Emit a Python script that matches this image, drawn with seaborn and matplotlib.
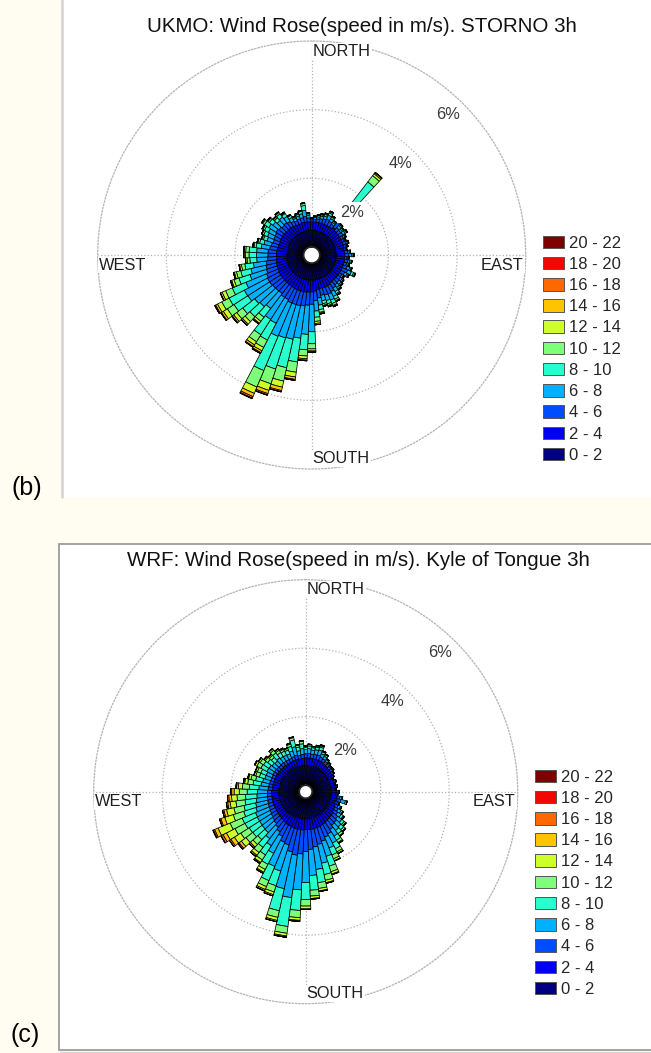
import numpy as np
import matplotlib
matplotlib.use("Agg")
import matplotlib.pyplot as plt
from matplotlib.patches import Patch, Rectangle
from matplotlib.lines import Line2D
import seaborn as sns

sns.set_theme(style="white")
plt.rcParams["font.family"] = ["Liberation Sans", "DejaVu Sans"]

# Direction bins: centres every 5 degrees, clockwise from north
directions = list(range(0, 360, 5))
speed_labels = ["0 - 2", "2 - 4", "4 - 6", "6 - 8", "8 - 10", "10 - 12",
                "12 - 14", "14 - 16", "16 - 18", "18 - 20", "20 - 22"]
ring_values = [2, 4, 6]
compass = ["NORTH", "EAST", "SOUTH", "WEST"]

# ---- UKMO, STORNO: frequency (%) per direction for each speed class ----
ukmo_0_2 = [.48, .48, .48, .48, .48, .48, .48, .48, .48, .48, .48, .48,
            .48, .48, .48, .48, .48, .48, .48, .48, .48, .48, .48, .48,
            .48, .48, .48, .48, .48, .48, .49, .49, .49, .49, .49, .50,
            .50, .50, .50, .50, .50, .50, .50, .50, .50, .50, .50, .50,
            .50, .50, .50, .50, .50, .49, .49, .49, .49, .49, .49, .49,
            .49, .49, .49, .49, .49, .49, .48, .48, .48, .48, .48, .48]
ukmo_2_4 = [.25, .25, .25, .25, .25, .25, .25, .25, .30, .25, .25, .25,
            .25, .25, .25, .25, .24, .25, .25, .25, .25, .25, .25, .25,
            .25, .25, .25, .25, .25, .26, .28, .29, .29, .28, .30, .32,
            .34, .35, .36, .36, .36, .36, .35, .35, .34, .34, .34, .34,
            .34, .33, .32, .32, .31, .30, .30, .30, .29, .28, .27, .28,
            .28, .29, .28, .27, .28, .27, .26, .25, .25, .26, .26, .25]
ukmo_4_6 = [.06, .08, .10, .12, .14, .17, .14, .10, .35, .12, .10, .12,
            .08, .06, .08, .06, .05, .08, .12, .06, .10, .08, .12, .17,
            .12, .08, .10, .12, .14, .17, .20, .22, .21, .20, .24, .28,
            .36, .38, .40, .42, .42, .42, .38, .38, .34, .35, .36, .38,
            .38, .36, .33, .31, .29, .26, .25, .25, .22, .20, .18, .19,
            .20, .22, .20, .18, .19, .17, .14, .12, .14, .14, .16, .12]
ukmo_6_8 = [.03, .05, .06, .08, .09, .12, .09, .06, .52, .08, .06, .08,
            .05, .03, .05, .03, .02, .05, .08, .03, .06, .05, .08, .12,
            .08, .05, .06, .08, .09, .12, .16, .19, .17, .16, .21, .30,
            .80, .85, .95, 1.00, 1.02, 1.05, .78, .76, .55, .62, .66, .75,
            .76, .65, .50, .45, .38, .32, .33, .33, .25, .22, .19, .20,
            .22, .25, .22, .19, .20, .17, .12, .08, .09, .12, .18, .08]
ukmo_8_10 = [.02, .03, .04, .04, .05, .07, .05, .04, .80, .04, .04, .04,
             .03, .02, .03, .02, .01, .03, .04, .02, .04, .03, .04, .07,
             .04, .03, .04, .04, .05, .07, .09, .11, .10, .09, .13, .18,
             .35, .45, .70, .85, .95, 1.08, .55, .53, .32, .40, .44, .48,
             .50, .43, .34, .30, .25, .20, .22, .22, .15, .13, .11, .12,
             .13, .15, .13, .11, .12, .10, .07, .04, .05, .07, .14, .04]
ukmo_10_12 = [.01, .01, .02, .02, .03, .04, .03, .02, .23, .02, .02, .02,
              .01, .01, .01, .01, 0, .01, .02, .01, .02, .01, .02, .04,
              .02, .01, .02, .02, .03, .03, .05, .06, .05, .05, .08, .12,
              .15, .18, .30, .40, .45, .52, .24, .24, .15, .19, .22, .23,
              .24, .21, .15, .13, .10, .08, .10, .10, .06, .05, .04, .05,
              .05, .06, .05, .04, .05, .03, .02, .02, .03, .02, .06, .02]
ukmo_12_14 = [0, 0, 0, .01, .01, .01, .01, 0, .07, .01, 0, .01,
              0, 0, 0, 0, 0, 0, .01, 0, 0, 0, .01, .02,
              .01, 0, 0, .01, .01, .02, .02, .03, .03, .02, .03, .06,
              .06, .08, .14, .18, .20, .20, .11, .11, .07, .10, .11, .14,
              .14, .11, .07, .06, .05, .04, .04, .04, .03, .02, .02, .02,
              .02, .03, .02, .02, .02, .02, .01, .01, .01, .01, .02, .01]
ukmo_14_16 = [0, 0, 0, 0, 0, .01, 0, 0, .04, 0, 0, 0,
              0, 0, 0, 0, 0, 0, 0, 0, 0, 0, 0, 0,
              0, 0, 0, 0, 0, 0, .01, .01, .01, .01, .02, .04,
              .03, .04, .07, .10, .10, .10, .06, .06, .03, .04, .05, .06,
              .06, .05, .03, .03, .02, .01, .02, .02, .01, .01, 0, 0,
              .01, .01, .01, 0, 0, 0, 0, 0, 0, 0, 0, 0]
ukmo_16_18 = [0, 0, 0, 0, 0, 0, 0, 0, .01, 0, 0, 0,
              0, 0, 0, 0, 0, 0, 0, 0, 0, 0, 0, 0,
              0, 0, 0, 0, 0, 0, 0, 0, 0, 0, 0, 0,
              .01, .02, .03, .04, .04, .05, .03, .02, 0, .01, .02, .02,
              .03, .01, .01, 0, 0, 0, 0, 0, 0, 0, 0, 0,
              0, 0, 0, 0, 0, 0, 0, 0, 0, 0, 0, 0]
ukmo_18_20 = [0, 0, 0, 0, 0, 0, 0, 0, 0, 0, 0, 0,
              0, 0, 0, 0, 0, 0, 0, 0, 0, 0, 0, 0,
              0, 0, 0, 0, 0, 0, 0, 0, 0, 0, 0, 0,
              0, 0, 0, 0, .01, .01, 0, 0, 0, 0, 0, 0,
              0, 0, 0, 0, 0, 0, 0, 0, 0, 0, 0, 0,
              0, 0, 0, 0, 0, 0, 0, 0, 0, 0, 0, 0]
ukmo_20_22 = [0, 0, 0, 0, 0, 0, 0, 0, 0, 0, 0, 0,
              0, 0, 0, 0, 0, 0, 0, 0, 0, 0, 0, 0,
              0, 0, 0, 0, 0, 0, 0, 0, 0, 0, 0, 0,
              0, 0, 0, 0, 0, .01, 0, 0, 0, 0, 0, 0,
              0, 0, 0, 0, 0, 0, 0, 0, 0, 0, 0, 0,
              0, 0, 0, 0, 0, 0, 0, 0, 0, 0, 0, 0]

# ---- WRF, Kyle of Tongue: frequency (%) per direction for each speed class ----
wrf_0_2 = [.58, .58, .58, .58, .58, .58, .58, .57, .57, .57, .57, .56,
           .56, .55, .56, .55, .56, .55, .56, .56, .56, .56, .56, .57,
           .57, .57, .58, .58, .58, .59, .59, .59, .60, .60, .60, .60,
           .60, .60, .60, .60, .60, .60, .60, .60, .60, .60, .60, .60,
           .60, .60, .60, .60, .60, .60, .60, .59, .59, .59, .59, .59,
           .59, .59, .59, .58, .58, .58, .58, .58, .58, .58, .58, .58]
wrf_2_4 = [.22, .22, .22, .22, .22, .22, .21, .20, .19, .17, .17, .16,
           .13, .11, .13, .11, .13, .11, .15, .13, .18, .20, .16, .18,
           .20, .22, .24, .25, .26, .27, .29, .30, .31, .31, .32, .32,
           .32, .33, .33, .33, .32, .31, .30, .28, .26, .25, .24, .23,
           .22, .22, .22, .21, .21, .21, .21, .20, .20, .20, .19, .19,
           .20, .20, .19, .19, .20, .19, .19, .19, .20, .20, .20, .20]
wrf_4_6 = [.12, .13, .12, .13, .14, .11, .10, .09, .08, .07, .07, .06,
           .04, .03, .04, .03, .04, .03, .05, .04, .08, .10, .07, .09,
           .11, .13, .17, .20, .21, .26, .32, .36, .42, .48, .52, .58,
           .64, .70, .75, .68, .52, .50, .38, .32, .26, .22, .20, .18,
           .17, .15, .14, .14, .13, .12, .12, .12, .11, .10, .10, .10,
           .10, .10, .10, .10, .10, .10, .10, .10, .11, .13, .10, .12]
wrf_6_8 = [.12, .14, .12, .14, .15, .10, .09, .06, .04, .03, .03, .02,
           .02, .01, .02, .01, .02, .01, .03, .02, .05, .14, .04, .07,
           .10, .12, .15, .18, .19, .23, .30, .34, .46, .56, .66, .76,
           .90, 1.05, 1.25, 1.10, .80, .76, .56, .48, .42, .36, .38, .40,
           .42, .43, .38, .36, .33, .31, .29, .27, .23, .21, .18, .18,
           .20, .19, .17, .16, .18, .16, .15, .14, .17, .25, .14, .17]
wrf_8_10 = [.07, .08, .07, .08, .09, .06, .05, .02, .02, .01, .01, 0,
            0, 0, 0, 0, 0, 0, .01, 0, .03, .05, .02, .03,
            .05, .07, .09, .11, .12, .14, .19, .22, .30, .34, .39, .43,
            .50, .60, .85, .66, .45, .45, .36, .32, .32, .28, .34, .36,
            .40, .42, .37, .35, .33, .33, .30, .28, .23, .21, .17, .17,
            .20, .19, .16, .14, .18, .14, .13, .12, .14, .20, .11, .14]
wrf_10_12 = [.03, .04, .03, .03, .04, .02, .01, .01, 0, 0, 0, 0,
             0, 0, 0, 0, 0, 0, 0, 0, 0, 0, 0, .01,
             .02, .03, .05, .06, .07, .08, .10, .12, .17, .17, .17, .17,
             .19, .21, .20, .20, .19, .19, .17, .17, .19, .19, .25, .29,
             .33, .38, .32, .30, .27, .25, .23, .20, .16, .14, .11, .11,
             .13, .12, .09, .08, .10, .08, .06, .05, .07, .07, .05, .07]
wrf_12_14 = [.01, .01, .01, .02, .02, .01, .01, 0, 0, 0, 0, 0,
             0, 0, 0, 0, 0, 0, 0, 0, 0, 0, 0, 0,
             0, .01, .02, .02, .02, .03, .05, .06, .07, .07, .07, .07,
             .08, .08, .08, .09, .08, .09, .09, .09, .10, .10, .17, .22,
             .28, .38, .26, .22, .17, .16, .15, .12, .09, .07, .05, .05,
             .06, .05, .04, .04, .05, .04, .03, .02, .03, .02, .02, .02]
wrf_14_16 = [0, 0, 0, 0, .01, 0, 0, 0, 0, 0, 0, 0,
             0, 0, 0, 0, 0, 0, 0, 0, 0, 0, 0, 0,
             0, 0, 0, 0, 0, 0, .01, .01, .02, .02, .02, .02,
             .02, .03, .03, .04, .04, .04, .03, .03, .04, .04, .08, .12,
             .11, .11, .12, .08, .07, .08, .07, .05, .03, .02, .01, .01,
             .02, .01, .01, .01, .01, .01, .01, 0, 0, 0, 0, 0]
wrf_16_18 = [0, 0, 0, 0, 0, 0, 0, 0, 0, 0, 0, 0,
             0, 0, 0, 0, 0, 0, 0, 0, 0, 0, 0, 0,
             0, 0, 0, 0, 0, 0, 0, 0, 0, 0, 0, 0,
             0, 0, .01, 0, 0, .01, .01, .01, .01, .01, .04, .05,
             .06, .04, .04, .04, .04, .04, .03, .02, .01, .01, 0, 0,
             0, 0, 0, 0, 0, 0, 0, 0, 0, 0, 0, 0]
wrf_18_20 = [0, 0, 0, 0, 0, 0, 0, 0, 0, 0, 0, 0,
             0, 0, 0, 0, 0, 0, 0, 0, 0, 0, 0, 0,
             0, 0, 0, 0, 0, 0, 0, 0, 0, 0, 0, 0,
             0, 0, 0, 0, 0, 0, 0, 0, 0, 0, 0, 0,
             .01, .01, 0, 0, 0, 0, 0, 0, 0, 0, 0, 0,
             0, 0, 0, 0, 0, 0, 0, 0, 0, 0, 0, 0]
wrf_20_22 = [0, 0, 0, 0, 0, 0, 0, 0, 0, 0, 0, 0,
             0, 0, 0, 0, 0, 0, 0, 0, 0, 0, 0, 0,
             0, 0, 0, 0, 0, 0, 0, 0, 0, 0, 0, 0,
             0, 0, 0, 0, 0, 0, 0, 0, 0, 0, 0, 0,
             0, .01, 0, 0, 0, 0, 0, 0, 0, 0, 0, 0,
             0, 0, 0, 0, 0, 0, 0, 0, 0, 0, 0, 0]

ukmo_classes = [ukmo_0_2, ukmo_2_4, ukmo_4_6, ukmo_6_8, ukmo_8_10, ukmo_10_12,
                ukmo_12_14, ukmo_14_16, ukmo_16_18, ukmo_18_20, ukmo_20_22]
wrf_classes = [wrf_0_2, wrf_2_4, wrf_4_6, wrf_6_8, wrf_8_10, wrf_10_12,
               wrf_12_14, wrf_14_16, wrf_16_18, wrf_18_20, wrf_20_22]

palette = sns.color_palette(plt.get_cmap("jet")(np.linspace(0, 1, 11))[:, :3].tolist())

W, H = 651, 1053
fig = plt.figure(figsize=(W / 100, H / 100), dpi=100)
fig.patch.set_facecolor("#fffdf1")


def fx(px):
    return px / W


def fy(py):
    return 1 - py / H


# white panels with grey borders
fig.add_artist(Rectangle((fx(62), fy(497)), 1, 497 / H, transform=fig.transFigure,
                         facecolor="white", edgecolor="none", zorder=-5))
fig.add_artist(Line2D([fx(62), fx(62)], [fy(497), 1], transform=fig.transFigure,
                      color="#d2d2d2", linewidth=1.8))
fig.add_artist(Rectangle((fx(59), fy(1050)), 1, (1050 - 544) / H, transform=fig.transFigure,
                         facecolor="white", edgecolor="#9c9c9c", linewidth=1.3, zorder=-5))
fig.add_artist(Line2D([fx(60), 1], [fy(1051.5), fy(1051.5)], transform=fig.transFigure,
                      color="#d6d6d6", linewidth=1.0))


def wind_rose(cx, cy, radius, inner, classes, title, title_xy, legend_xy):
    ax = fig.add_axes([fx(cx - radius), fy(cy + radius), 2 * radius / W, 2 * radius / H],
                      projection="polar")
    ax.set_theta_zero_location("N")
    ax.set_theta_direction(-1)
    ax.set_facecolor("white")
    scale = (radius - inner) / 6.0
    ax.set_ylim(0, 6)
    ax.set_rorigin(-inner / scale)

    theta = np.deg2rad(directions)
    width = np.deg2rad(5)
    base = np.zeros(len(directions))
    for vals, col in zip(classes, palette):
        v = np.asarray(vals, dtype=float)
        ax.bar(theta, v, width=width, bottom=base, color=col, edgecolor="black",
               linewidth=0.55, align="center", zorder=2)
        base = base + v

    ax.set_xticks(np.deg2rad([0, 90, 180, 270]))
    ax.set_xticklabels([])
    ax.set_yticks(ring_values[:-1])
    ax.set_yticklabels([])
    ax.grid(True, color="#b3b3b3", linestyle=":", linewidth=0.9)
    ax.set_axisbelow(True)
    ax.spines["polar"].set_linestyle(":")
    ax.spines["polar"].set_color("#b3b3b3")
    ax.spines["polar"].set_linewidth(0.9)
    if "inner" in ax.spines:
        ax.spines["inner"].set_visible(False)

    for val in ring_values:
        ax.text(np.deg2rad(44), val - 0.53, f"{val}%", ha="center", va="center",
                fontsize=11.8, color="#3a3a3a",
                bbox=dict(facecolor="white", edgecolor="none", pad=2.2), zorder=6)

    placement = {
        "NORTH": (0, "left", (1, -10)),
        "EAST": (90, "right", (-2, -10)),
        "SOUTH": (180, "left", (1, 10.5)),
        "WEST": (270, "left", (1, -10)),
    }
    for name in compass:
        ang, ha, off = placement[name]
        ax.annotate(name, xy=(np.deg2rad(ang), 6), xytext=off, textcoords="offset pixels",
                    ha=ha, va="center", fontsize=11.8, color="#1e1e1e",
                    bbox=dict(facecolor="white", edgecolor="none", pad=0.6),
                    zorder=6, annotation_clip=False)

    fig.text(fx(title_xy[0]), fy(title_xy[1]), title, ha="center", va="center",
             fontsize=14.8, color="#111111")

    handles = [Patch(facecolor=c, edgecolor="#555555", linewidth=0.7) for c in palette][::-1]
    fig.legend(handles, speed_labels[::-1], loc="upper left",
               bbox_to_anchor=(fx(legend_xy[0]), fy(legend_xy[1])), frameon=False,
               fontsize=12, handlelength=1.26, handleheight=0.78, handletextpad=0.3,
               labelspacing=0.37, borderpad=0, borderaxespad=0)
    return ax


wind_rose(311.7, 255, 214, 8.1, ukmo_classes,
          "UKMO: Wind Rose(speed in m/s). STORNO 3h", (362, 26), (543, 235.5))
wind_rose(305.7, 791.7, 212, 6.5, wrf_classes,
          "WRF: Wind Rose(speed in m/s). Kyle of Tongue 3h", (358, 561), (535, 769.5))

fig.text(fx(27), fy(488), "(b)", ha="center", va="center", fontsize=18, color="black")
fig.text(fx(25), fy(1035), "(c)", ha="center", va="center", fontsize=18, color="black")

fig.savefig("out.png", dpi=100, facecolor=fig.get_facecolor())
